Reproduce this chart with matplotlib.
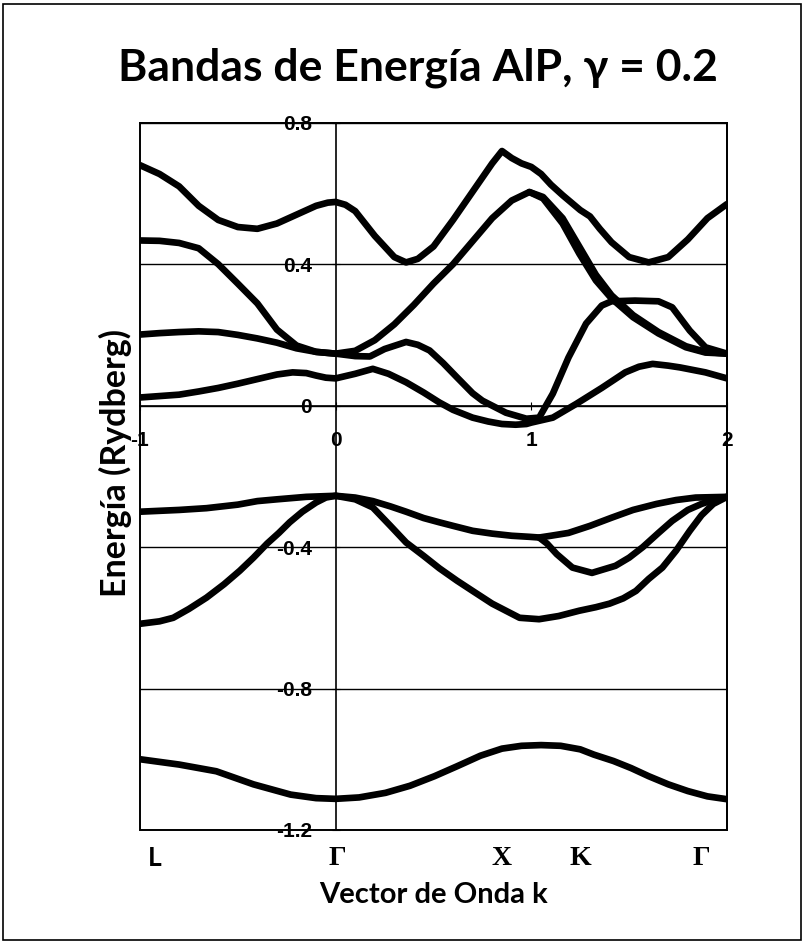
import matplotlib
matplotlib.use('Agg')
import matplotlib.pyplot as plt
from matplotlib.patches import Rectangle

# valores (k, energia en Ry)
k1 = [-1, -0.9, -0.8, -0.7, -0.6, -0.5, -0.4, -0.3, -0.2, -0.1, -0.04, 0, 0.05, 0.1, 0.2, 0.3, 0.36, 0.42, 0.5, 0.6,
      0.7, 0.8, 0.85, 0.9, 0.95, 1.0, 1.05, 1.1, 1.16, 1.25, 1.3, 1.35, 1.41, 1.5, 1.6, 1.7, 1.8, 1.9, 2.0]
e1 = [0.68, 0.655, 0.62, 0.565, 0.525, 0.505, 0.50, 0.515, 0.54, 0.565, 0.574, 0.576, 0.568, 0.55, 0.48, 0.42, 0.405,
      0.415, 0.45, 0.525, 0.605, 0.685, 0.72, 0.70, 0.685, 0.675, 0.655, 0.625, 0.595, 0.553, 0.535, 0.50, 0.462,
      0.42, 0.405, 0.42, 0.47, 0.53, 0.57]

k2 = [-1, -0.9, -0.8, -0.7, -0.6, -0.5, -0.4, -0.3, -0.2, -0.1, 0, 0.1, 0.2, 0.3, 0.4, 0.5, 0.6, 0.7, 0.8, 0.9,
      0.99, 1.06, 1.16, 1.245, 1.33, 1.41, 1.52, 1.65, 1.79, 1.89, 2.0]
e2 = [0.467, 0.466, 0.46, 0.445, 0.40, 0.345, 0.289, 0.215, 0.17, 0.152, 0.147, 0.155, 0.185, 0.23, 0.285, 0.345,
      0.40, 0.465, 0.53, 0.58, 0.604, 0.586, 0.515, 0.43, 0.354, 0.303, 0.25, 0.204, 0.165, 0.15, 0.147]
k2b = [0.99, 1.06, 1.16, 1.245, 1.33, 1.41, 1.52, 1.65, 1.79, 1.89, 2.0]
e2b = [0.604, 0.590, 0.53, 0.45, 0.37, 0.312, 0.256, 0.208, 0.168, 0.152, 0.147]

k3 = [-1, -0.9, -0.8, -0.7, -0.6, -0.5, -0.4, -0.3, -0.2, -0.1, 0, 0.1, 0.175, 0.25, 0.36, 0.42, 0.48, 0.55, 0.62,
      0.7, 0.75, 0.87, 0.975, 1.04, 1.11, 1.19, 1.28, 1.36, 1.41, 1.53, 1.65, 1.72, 1.81, 1.89, 2.0]
e3 = [0.201, 0.205, 0.208, 0.21, 0.208, 0.20, 0.19, 0.178, 0.162, 0.152, 0.147, 0.14, 0.139, 0.16, 0.18, 0.172,
      0.156, 0.12, 0.08, 0.035, 0.014, -0.02, -0.037, -0.034, 0.034, 0.136, 0.232, 0.283, 0.295, 0.297, 0.295,
      0.278, 0.212, 0.165, 0.147]

k4 = [-1, -0.9, -0.8, -0.7, -0.6, -0.5, -0.4, -0.3, -0.22, -0.15, -0.1, -0.05, 0, 0.1, 0.19, 0.27, 0.36, 0.45,
      0.53, 0.6, 0.7, 0.78, 0.85, 0.92, 0.975, 1.0, 1.11, 1.23, 1.36, 1.48, 1.55, 1.62, 1.7, 1.76, 1.89, 2.0]
e4 = [0.023, 0.027, 0.031, 0.04, 0.05, 0.062, 0.075, 0.088, 0.094, 0.092, 0.085, 0.079, 0.077, 0.09, 0.104, 0.09,
      0.066, 0.037, 0.009, -0.012, -0.034, -0.045, -0.052, -0.054, -0.052, -0.048, -0.034, 0.005, 0.05, 0.094,
      0.11, 0.118, 0.113, 0.108, 0.094, 0.077]

k5 = [-1, -0.8, -0.66, -0.5, -0.4, -0.3, -0.15, 0, 0.1, 0.19, 0.28, 0.36, 0.45, 0.53, 0.6, 0.7, 0.8, 0.9, 0.99,
      1.04, 1.1, 1.19, 1.3, 1.41, 1.52, 1.64, 1.74, 1.84, 2.0]
e5 = [-0.30, -0.295, -0.29, -0.28, -0.27, -0.265, -0.258, -0.255, -0.26, -0.27, -0.285, -0.30, -0.318, -0.33,
      -0.34, -0.354, -0.362, -0.368, -0.371, -0.373, -0.368, -0.36, -0.34, -0.317, -0.295, -0.278, -0.267, -0.26,
      -0.258]
k5b = [1.04, 1.08, 1.13, 1.21, 1.31, 1.43, 1.5, 1.57, 1.65, 1.72, 1.8, 1.87, 1.94, 2.0]
e5b = [-0.373, -0.39, -0.42, -0.458, -0.473, -0.453, -0.43, -0.40, -0.36, -0.326, -0.295, -0.278, -0.265, -0.258]

k6 = [-1, -0.9, -0.83, -0.75, -0.66, -0.57, -0.49, -0.42, -0.35, -0.29, -0.235, -0.17, -0.1, -0.05, 0, 0.1, 0.19,
      0.28, 0.36, 0.45, 0.53, 0.62, 0.7, 0.8, 0.94, 1.04, 1.14, 1.245, 1.33, 1.4, 1.47, 1.535, 1.6, 1.67, 1.74,
      1.81, 1.87, 1.93, 2.0]
e6 = [-0.617, -0.61, -0.60, -0.575, -0.543, -0.505, -0.467, -0.43, -0.39, -0.36, -0.33, -0.30, -0.274, -0.26,
      -0.255, -0.265, -0.288, -0.34, -0.387, -0.425, -0.46, -0.495, -0.524, -0.56, -0.60, -0.604, -0.595, -0.58,
      -0.57, -0.56, -0.545, -0.524, -0.49, -0.458, -0.41, -0.354, -0.31, -0.278, -0.258]

k7 = [-1, -0.8, -0.61, -0.42, -0.23, -0.1, 0, 0.12, 0.255, 0.38, 0.505, 0.62, 0.74, 0.85, 0.95, 1.05, 1.15, 1.25,
      1.32, 1.42, 1.51, 1.6, 1.7, 1.8, 1.9, 2.0]
e7 = [-1.0, -1.015, -1.034, -1.071, -1.10, -1.11, -1.112, -1.108, -1.095, -1.075, -1.048, -1.02, -0.99, -0.97,
      -0.962, -0.96, -0.962, -0.972, -0.987, -1.005, -1.025, -1.048, -1.071, -1.09, -1.105, -1.113]

yticks = [-1.2, -0.8, -0.4, 0, 0.4, 0.8]
ytick_labels = ['-1.2', '-0.8', '-0.4', '0', '0.4', '0.8']
xticks = [-1, 0, 1, 2]
xtick_labels = ['-1', '0', '1', '2']

sym_pos = [-0.923, 0.008, 0.85, 1.25, 1.87]
sym_names = ['L', 'Γ', 'X', 'K', 'Γ']

fig = plt.figure(figsize=(8.04, 9.44), dpi=100)
ax = fig.add_axes([0.1741, 0.1208, 0.7301, 0.7492])

for k, e in [(k1, e1), (k2, e2), (k2b, e2b), (k3, e3), (k4, e4), (k5, e5), (k5b, e5b), (k6, e6), (k7, e7)]:
    ax.plot(k, e, color='black', lw=4.8, solid_capstyle='round', solid_joinstyle='round', zorder=3)

ax.set_xlim(-1, 2)
ax.set_ylim(-1.2, 0.8)

# ejes cruzando en el origen, marco completo alrededor
ax.spines['left'].set_position(('data', 0))
ax.spines['bottom'].set_position(('data', 0))
for s in ax.spines.values():
    s.set_linewidth(1.2)
ax.patch.set_edgecolor('black')
ax.patch.set_linewidth(1.4)

ax.set_yticks(yticks)
ax.set_yticklabels(ytick_labels)
ax.set_xticks(xticks)
ax.set_xticklabels(xtick_labels)
ax.tick_params(axis='y', direction='inout', length=6, pad=14, labelsize=15)
ax.tick_params(axis='x', direction='inout', length=6, pad=15, labelsize=15)
for lab in ax.get_xticklabels() + ax.get_yticklabels():
    lab.set_family('Liberation Sans')
    lab.set_fontweight('bold')
ax.yaxis.grid(True, color='black', lw=1.0)
ax.set_axisbelow(True)

for x, name in zip(sym_pos, sym_names):
    if name == 'L':
        ax.text(x, -1.28, name, ha='center', va='center', fontsize=19, fontweight='bold',
                family=['Lato', 'DejaVu Sans'], clip_on=False)
    else:
        ax.text(x, -1.28, name, ha='center', va='center', fontsize=20, fontweight='bold',
                family='Liberation Serif', clip_on=False)

fig.text(0.52, 0.928, 'Bandas de Energía AlP, γ = 0.2', ha='center', va='center', fontsize=32,
         fontweight='bold', family=['Lato', 'DejaVu Sans'])
fig.text(0.144, 0.51, 'Energía (Rydberg)', ha='center', va='center', rotation=90, fontsize=24.5,
         fontweight='bold', family=['Lato', 'DejaVu Sans'])
fig.text(0.539, 0.052, 'Vector de Onda k', ha='center', va='center', fontsize=21,
         fontweight='bold', family=['Lato', 'DejaVu Sans'])

fig.patches.append(Rectangle((0.004, 0.004), 0.992, 0.992, transform=fig.transFigure,
                             fill=False, lw=1.2, ec='black'))

fig.savefig('out.png', dpi=100)
